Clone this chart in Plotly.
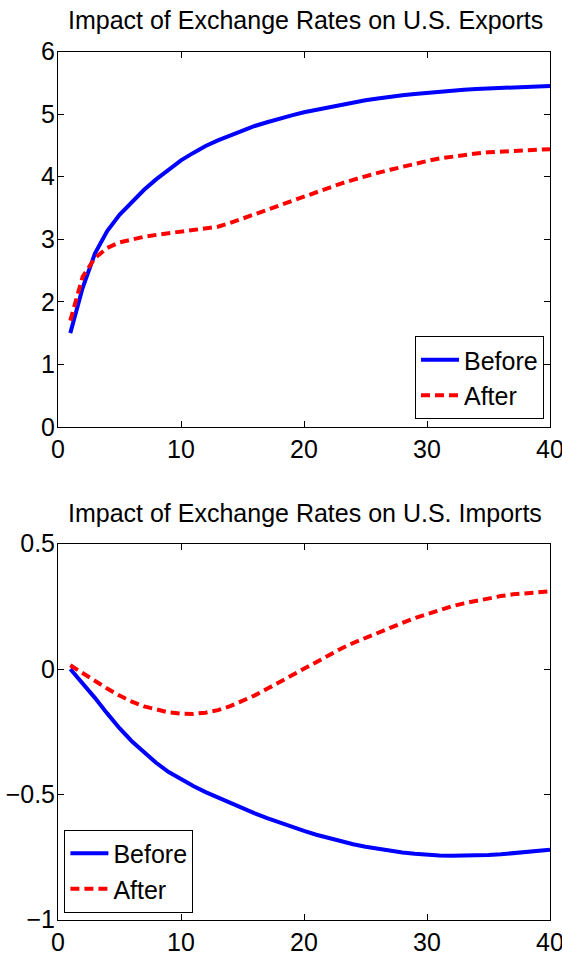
import plotly.graph_objects as go

# Horizon (quarters) and impulse responses
horizon = list(range(1, 41))

exports_before = [1.50, 2.22, 2.77, 3.13, 3.39, 3.60, 3.79, 3.96, 4.12, 4.26,
                  4.38, 4.49, 4.58, 4.66, 4.74, 4.81, 4.87, 4.93, 4.98, 5.03,
                  5.07, 5.11, 5.15, 5.19, 5.22, 5.25, 5.28, 5.30, 5.32, 5.34,
                  5.36, 5.37, 5.39, 5.40, 5.41, 5.42, 5.43, 5.44, 5.44, 5.45]
exports_after = [1.70, 2.40, 2.70, 2.86, 2.95, 3.00, 3.04, 3.07, 3.095, 3.115,
                 3.135, 3.16, 3.20, 3.26, 3.33, 3.40, 3.48, 3.55, 3.62, 3.69,
                 3.76, 3.83, 3.89, 3.95, 4.01, 4.06, 4.11, 4.16, 4.21, 4.25,
                 4.29, 4.32, 4.35, 4.37, 4.39, 4.40, 4.41, 4.42, 4.43, 4.44]

imports_before = [0.00, -0.055, -0.115, -0.177, -0.236, -0.288, -0.334, -0.375, -0.411, -0.441,
                  -0.467, -0.491, -0.513, -0.535, -0.556, -0.576, -0.595, -0.613, -0.630, -0.646,
                  -0.661, -0.675, -0.688, -0.699, -0.709, -0.718, -0.726, -0.732, -0.737, -0.741,
                  -0.744, -0.745, -0.745, -0.744, -0.742, -0.739, -0.735, -0.731, -0.726, -0.721]
imports_after = [0.015, -0.017, -0.048, -0.078, -0.106, -0.130, -0.149, -0.163, -0.173, -0.178,
                 -0.179, -0.174, -0.164, -0.148, -0.128, -0.105, -0.079, -0.052, -0.024, 0.004,
                 0.031, 0.057, 0.081, 0.104, 0.125, 0.145, 0.165, 0.184, 0.203, 0.220,
                 0.236, 0.250, 0.262, 0.273, 0.283, 0.291, 0.298, 0.303, 0.307, 0.310]

x_ticks = [0, 10, 20, 30, 40]
exports_ticks = [0, 1, 2, 3, 4, 5, 6]
imports_ticks = [-1, -0.5, 0, 0.5]
imports_ticklabels = ["\u22121", "\u22120.5", "0", "0.5"]

FONT = "Liberation Sans, Arial, Helvetica, sans-serif"
BLUE = "#0000ff"
RED = "#ff0000"

fig = go.Figure()

fig.add_trace(go.Scatter(x=horizon, y=exports_before, name="Before", mode="lines",
                         line=dict(color=BLUE, width=4), xaxis="x", yaxis="y",
                         legend="legend"))
fig.add_trace(go.Scatter(x=horizon, y=exports_after, name="After", mode="lines",
                         line=dict(color=RED, width=4, dash="9px,5px"), xaxis="x", yaxis="y",
                         legend="legend"))
fig.add_trace(go.Scatter(x=horizon, y=imports_before, name="Before", mode="lines",
                         line=dict(color=BLUE, width=4), xaxis="x2", yaxis="y2",
                         legend="legend2"))
fig.add_trace(go.Scatter(x=horizon, y=imports_after, name="After", mode="lines",
                         line=dict(color=RED, width=4, dash="9px,5px"), xaxis="x2", yaxis="y2",
                         legend="legend2"))

axis_style = dict(
    showline=True, linecolor="black", linewidth=1, mirror="ticks",
    ticks="inside", ticklen=6, tickwidth=1, tickcolor="black",
    showgrid=False, zeroline=False, ticklabeloverflow="allow",
    tickfont=dict(family=FONT, size=25, color="black"),
)

W, H = 562, 955
L, R = 58, 12


def py(px):
    return 1 - px / H


def pxx(px):
    return (px - L) / (W - L - R)


legend_style = dict(bgcolor="white", bordercolor="black", borderwidth=1, itemwidth=38,
                    font=dict(family=FONT, size=25, color="black"))

fig.update_layout(
    width=W, height=H,
    margin=dict(l=L, r=R, t=0, b=0, autoexpand=False),
    paper_bgcolor="white", plot_bgcolor="white",
    font=dict(family=FONT, size=25, color="black"),
    xaxis=dict(axis_style, range=[0, 40], tickvals=x_ticks, anchor="y", domain=[0, 1]),
    yaxis=dict(axis_style, range=[0, 6], tickvals=exports_ticks, anchor="x",
               ticklabelstandoff=-3, domain=[py(427), py(51.5)]),
    xaxis2=dict(axis_style, range=[0, 40], tickvals=x_ticks, anchor="y2", domain=[0, 1]),
    yaxis2=dict(axis_style, range=[-1, 0.5], tickvals=imports_ticks,
                ticktext=imports_ticklabels, anchor="x2", ticklabelstandoff=-3,
                domain=[py(919.7), py(543.7)]),
    legend=dict(legend_style, x=pxx(544), y=py(419), xanchor="right", yanchor="bottom"),
    legend2=dict(legend_style, x=pxx(64.4), y=py(912.5), xanchor="left", yanchor="bottom"),
    annotations=[
        dict(text="Impact of Exchange Rates on U.S. Exports", x=pxx(305), y=py(20),
             xref="paper", yref="paper", xanchor="center", yanchor="middle",
             showarrow=False, font=dict(family=FONT, size=25, color="black")),
        dict(text="Impact of Exchange Rates on U.S. Imports", x=pxx(305), y=py(513),
             xref="paper", yref="paper", xanchor="center", yanchor="middle",
             showarrow=False, font=dict(family=FONT, size=25, color="black")),
    ],
)

fig.write_html("out.html")
